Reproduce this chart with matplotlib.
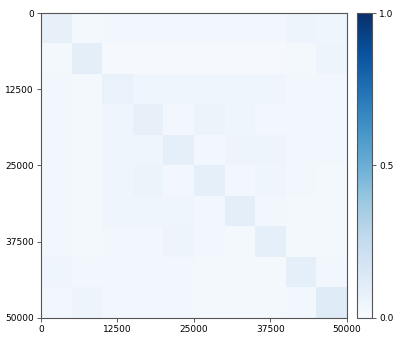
import numpy as np
import matplotlib
matplotlib.use('Agg')
import matplotlib.pyplot as plt

# 10x10 block similarity matrix
matrix = [
    [0.08, 0.02, 0.03, 0.03, 0.03, 0.03, 0.03, 0.03, 0.05, 0.04],
    [0.02, 0.10, 0.01, 0.01, 0.01, 0.01, 0.01, 0.01, 0.02, 0.05],
    [0.03, 0.02, 0.07, 0.04, 0.04, 0.04, 0.04, 0.04, 0.03, 0.03],
    [0.03, 0.02, 0.04, 0.08, 0.03, 0.06, 0.04, 0.03, 0.03, 0.03],
    [0.03, 0.02, 0.04, 0.04, 0.09, 0.03, 0.05, 0.05, 0.03, 0.03],
    [0.03, 0.02, 0.04, 0.06, 0.03, 0.09, 0.03, 0.04, 0.03, 0.02],
    [0.03, 0.02, 0.04, 0.04, 0.04, 0.03, 0.10, 0.03, 0.02, 0.02],
    [0.03, 0.02, 0.03, 0.03, 0.05, 0.03, 0.02, 0.09, 0.02, 0.02],
    [0.04, 0.03, 0.03, 0.03, 0.03, 0.02, 0.02, 0.02, 0.09, 0.03],
    [0.03, 0.05, 0.03, 0.03, 0.03, 0.02, 0.02, 0.02, 0.03, 0.12],
]
n_max = 50000
tick_vals = [0, 12500, 25000, 37500, 50000]
cbar_ticks = [0.0, 0.5, 1.0]

fig = plt.figure(figsize=(4.09, 3.54), dpi=100)
ax = fig.add_axes([0.100, 0.102, 0.748, 0.861])
cax = fig.add_axes([0.873, 0.102, 0.037, 0.861])

im = ax.imshow(np.array(matrix), cmap='Blues', vmin=0, vmax=1,
               extent=[0, n_max, n_max, 0], aspect='auto',
               interpolation='nearest')
ax.set_xticks(tick_vals)
ax.set_yticks(tick_vals)
ax.tick_params(labelsize=6.5, length=3, width=0.6, color='#444444', pad=2)
for s in ax.spines.values():
    s.set_color('#555555')
    s.set_linewidth(0.8)

cb = fig.colorbar(im, cax=cax, ticks=cbar_ticks)
cb.ax.tick_params(labelsize=6.5, length=3, width=0.6, color='#444444', pad=2)
cb.outline.set_edgecolor('#555555')
cb.outline.set_linewidth(0.8)

plt.savefig('out.png', dpi=100)
